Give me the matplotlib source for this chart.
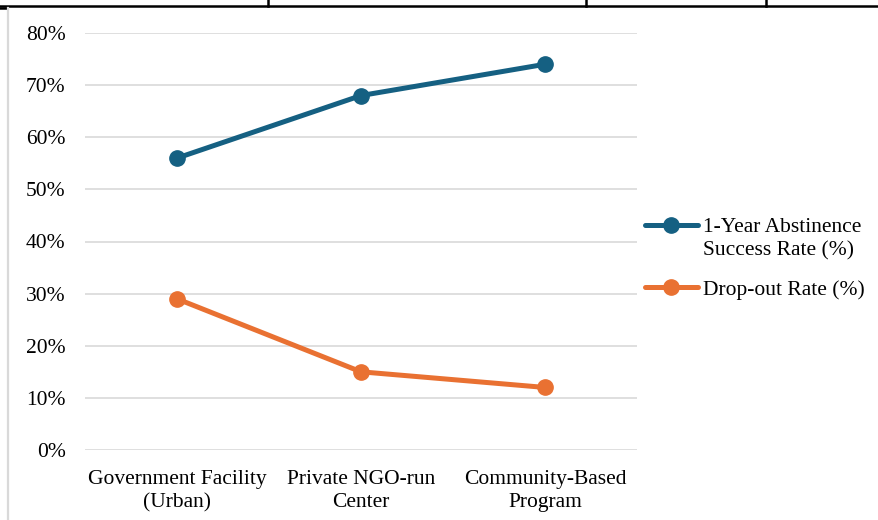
import matplotlib.pyplot as plt
from matplotlib.lines import Line2D
from matplotlib.ticker import PercentFormatter

plt.rcParams['font.family'] = ['Liberation Serif', 'DejaVu Serif']

# treatment settings and outcome rates (%)
categories = ["Government Facility\n(Urban)", "Private NGO-run\nCenter", "Community-Based\nProgram"]
success_rate = [56, 68, 74]
dropout_rate = [29, 15, 12]
series_names = ["1-Year Abstinence\nSuccess Rate (%)", "Drop-out Rate (%)"]
series_colors = ["#156082", "#E97132"]

W, H = 879, 520
FS = 15.5
fig = plt.figure(figsize=(W / 100, H / 100), dpi=100)
ax = fig.add_axes([85 / W, 1 - 450 / H, (637 - 85) / W, (450 - 33) / H])

x = range(len(categories))
for vals, col in zip([success_rate, dropout_rate], series_colors):
    ax.plot(x, vals, color=col, lw=3.6, marker='o', ms=11,
            solid_capstyle='round', zorder=3)

ax.set_xlim(-0.5, len(categories) - 0.5)
ax.set_ylim(0, 80)
ax.set_yticks(range(0, 81, 10))
ax.yaxis.set_major_formatter(PercentFormatter(decimals=0))
ax.set_xticks(list(x))
ax.set_xticklabels(categories, linespacing=1.3)
ax.tick_params(axis='both', length=0, labelsize=FS, colors='#000000')
ax.tick_params(axis='y', pad=14)
ax.tick_params(axis='x', pad=14.5)
ax.grid(axis='y', color='#D9D9D9', lw=1.2)
ax.set_axisbelow(True)
for s in ax.spines.values():
    s.set_visible(False)

# legend drawn by hand so the handle sits on the first text line
leg_y = [225, 287]
for name, col, yy in zip(series_names, series_colors, leg_y):
    fy = 1 - yy / H
    fig.add_artist(Line2D([645 / W, 698 / W], [fy, fy], color=col, lw=3.6,
                          solid_capstyle='round'))
    fig.add_artist(Line2D([671.5 / W], [fy], color=col, marker='o', ms=11))
    fig.text(703 / W, fy + 7 / H, name, fontsize=FS, va='top', ha='left',
             linespacing=1.3)

# surrounding page frame
fig.add_artist(Line2D([0, 1], [1 - 6 / H, 1 - 6 / H], color='black', lw=1.8))
for xv in [268, 586, 766]:
    fig.add_artist(Line2D([xv / W, xv / W], [1 - 6 / H, 1], color='black', lw=1.8))
fig.add_artist(Line2D([0, 7 / W], [1 - 7.5 / H, 1 - 7.5 / H], color='black', lw=1.8))
fig.add_artist(Line2D([8 / W, 8 / W], [0, 1 - 8 / H], color='#D9D9D9', lw=1.6))

fig.savefig('out.png', dpi=100)
